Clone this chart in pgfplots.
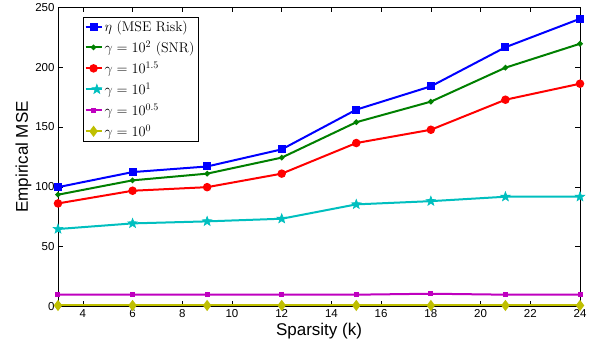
\documentclass[border=0pt]{standalone}
\usepackage{pgfplots}
\pgfplotsset{compat=1.18}
\usetikzlibrary{shapes.geometric}
\usepackage{fontspec}
\setsansfont{Liberation Sans}
\definecolor{mblue}{rgb}{0,0,1}
\definecolor{mgreen}{rgb}{0,0.5,0}
\definecolor{mred}{rgb}{1,0,0}
\definecolor{mcyan}{rgb}{0,0.75,0.75}
\definecolor{mmag}{rgb}{0.75,0,0.75}
\definecolor{myel}{rgb}{0.75,0.75,0}
\pgfdeclareplotmark{fstar}{\node[star,star points=5,star point ratio=2.4,fill,draw,line width=0.6pt,inner sep=0pt,minimum size=10pt] {};}
\begin{document}
\begin{tikzpicture}
\begin{axis}[
  scale only axis,
  width=522pt, height=299pt,
  xmin=3, xmax=24, ymin=0, ymax=250,
  xtick={4,6,...,24}, ytick={0,50,...,250},
  tick align=inside,
  major tick length=5pt,
  tick style={black, line width=0.5pt},
  axis line style={black, line width=0.8pt},
  /pgf/number format/assume math mode=true,
  ticklabel style={font=\sffamily\fontsize{11.5}{12}\selectfont},
  xlabel={Sparsity (k)}, ylabel={Empirical MSE},
  label style={font=\sffamily\fontsize{17}{18}\selectfont},
  xlabel style={yshift=2pt},
  ylabel style={yshift=-3pt},
  legend style={at={(rel axis cs:0,1)}, xshift=24.7pt, yshift=-9.7pt, anchor=north west,
    font=\fontsize{14}{15}\selectfont, draw=black, line width=0.8pt,
    inner sep=1.5pt, row sep=3.8pt, cells={anchor=west}},
  legend image post style={line width=2pt},
  legend image code/.code={\draw[mark repeat=2,mark phase=2] plot coordinates {(0cm,0cm) (0.28cm,0cm) (0.56cm,0cm)};},
  every axis plot/.append style={line width=2pt},
]
\addplot[mblue, mark=square*, mark size=3pt] coordinates {(3,99.7) (6,112.3) (9,117) (12,131.3) (15,164.5) (18,184) (21,216.7) (24,240.5)};
\addlegendentry{$\eta$ (MSE Risk)}
\addplot[mgreen, mark=*, mark size=1.6pt] coordinates {(3,93.4) (6,105.4) (9,111) (12,124.4) (15,154) (18,171.2) (21,199.6) (24,219.6)};
\addlegendentry{$\gamma=10^{2}$ (SNR)}
\addplot[mred, mark=*, mark size=3.2pt] coordinates {(3,86.1) (6,96.7) (9,99.7) (12,111) (15,136.6) (18,147.7) (21,172.8) (24,186.2)};
\addlegendentry{$\gamma=10^{1.5}$}
\addplot[mcyan, mark=fstar] coordinates {(3,64.7) (6,69.4) (9,71.1) (12,73.3) (15,85.3) (18,88) (21,91.7) (24,91.7)};
\addlegendentry{$\gamma=10^{1}$}
\addplot[mmag, mark=square*, mark size=1.5pt] coordinates {(3,9.8) (6,9.8) (9,9.8) (12,9.8) (15,9.8) (18,10.6) (21,9.8) (24,9.8)};
\addlegendentry{$\gamma=10^{0.5}$}
\addplot[myel, mark=diamond*, mark size=4pt] coordinates {(3,0.8) (6,0.8) (9,0.8) (12,0.8) (15,0.8) (18,0.8) (21,0.8) (24,0.8)};
\addlegendentry{$\gamma=10^{0}$}
\end{axis}
\path (current axis.south west) ++(-58pt,-40pt) coordinate (bbl);
\path (current axis.north east) ++(17pt,7pt) coordinate (bbr);
\path (bbl) rectangle (bbr);
\end{tikzpicture}
\end{document}
